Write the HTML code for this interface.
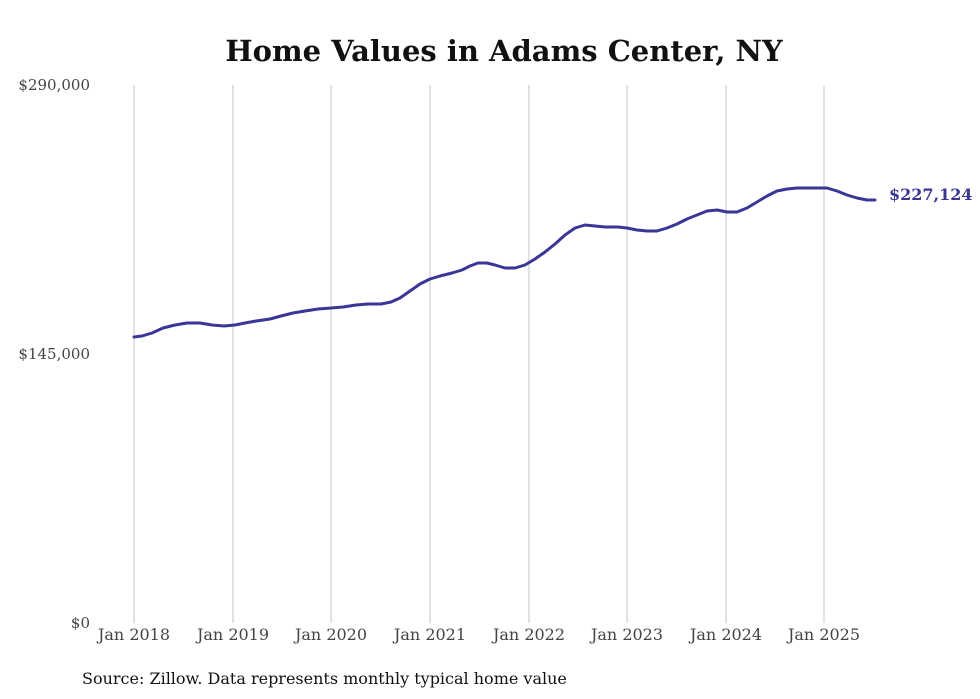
<!DOCTYPE html>
<html><head><meta charset="utf-8"><style>
html,body{margin:0;padding:0;background:#fff;}
svg{display:block;}
</style></head><body>
<svg width="980" height="699" viewBox="0 0 980 699" xmlns="http://www.w3.org/2000/svg">
<rect width="980" height="699" fill="#fff"/>
<text x="504" y="61" text-anchor="middle" font-family="DejaVu Serif, serif" font-weight="bold" font-size="29" fill="#111">Home Values in Adams Center, NY</text>
<g stroke="#c4c4c4" stroke-width="1">
<line x1="134" y1="85" x2="134" y2="623"/>
<line x1="233" y1="85" x2="233" y2="623"/>
<line x1="331" y1="85" x2="331" y2="623"/>
<line x1="430" y1="85" x2="430" y2="623"/>
<line x1="529" y1="85" x2="529" y2="623"/>
<line x1="627" y1="85" x2="627" y2="623"/>
<line x1="726" y1="85" x2="726" y2="623"/>
<line x1="824" y1="85" x2="824" y2="623"/>
</g>
<g font-family="DejaVu Serif, serif" font-size="15" fill="#444">
<text x="90" y="90" text-anchor="end">$290,000</text>
<text x="90" y="359" text-anchor="end">$145,000</text>
<text x="90" y="628" text-anchor="end">$0</text>
<g text-anchor="middle" font-size="16">
<text x="134" y="640">Jan 2018</text>
<text x="233" y="640">Jan 2019</text>
<text x="331" y="640">Jan 2020</text>
<text x="430" y="640">Jan 2021</text>
<text x="529" y="640">Jan 2022</text>
<text x="627" y="640">Jan 2023</text>
<text x="726" y="640">Jan 2024</text>
<text x="824" y="640">Jan 2025</text>
</g>
</g>
<polyline fill="none" stroke="#3a3596" stroke-width="3" stroke-linejoin="round" stroke-linecap="round" points="134,337 142,336 152,333 163,328 175,325 187,323 200,323 212,325 224,326 235,325 245,323 256,321 270,319 281,316 293,313 305,311 318,309 331,308 343,307 356,305 368,304 381,304 391,302 400,298 410,291 420,284 430,279 440,276 452,273 462,270 470,266 478,263 487,263 495,265 505,268 515,268 525,265 535,259 545,252 555,244 565,235 575,228 585,225 595,226 605,227 618,227 627,228 637,230 647,231 657,231 667,228 677,224 687,219 697,215 707,211 717,210 727,212 737,212 747,208 757,202 767,196 777,191 787,189 797,188 807,188 817,188 827,188 837,191 847,195 857,198 867,200 875,200"/>
<text x="889" y="200" font-family="DejaVu Serif, serif" font-weight="bold" font-size="16" fill="#3a3596">$227,124</text>
<text x="82" y="684" font-family="DejaVu Serif, serif" font-size="16" fill="#111">Source: Zillow. Data represents monthly typical home value</text>
</svg>
</body></html>
